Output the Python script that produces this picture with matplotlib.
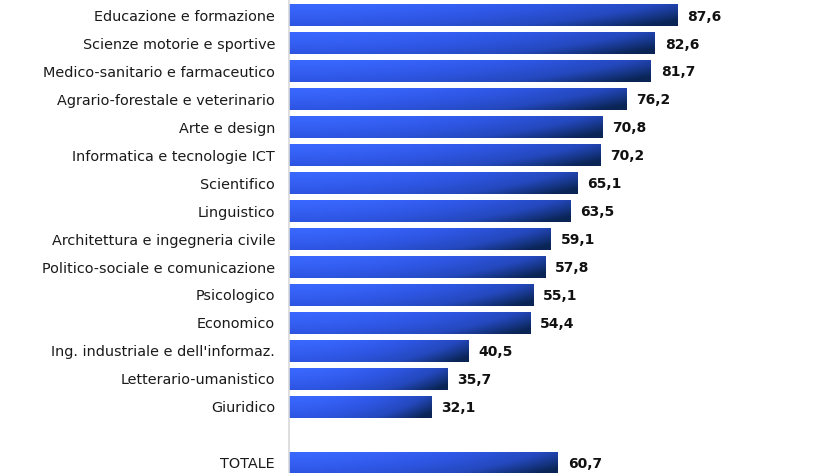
import numpy as np
import matplotlib
matplotlib.use("Agg")
import matplotlib.pyplot as plt
from matplotlib.colors import LinearSegmentedColormap

# Data
categories = [
    "Educazione e formazione",
    "Scienze motorie e sportive",
    "Medico-sanitario e farmaceutico",
    "Agrario-forestale e veterinario",
    "Arte e design",
    "Informatica e tecnologie ICT",
    "Scientifico",
    "Linguistico",
    "Architettura e ingegneria civile",
    "Politico-sociale e comunicazione",
    "Psicologico",
    "Economico",
    "Ing. industriale e dell'informaz.",
    "Letterario-umanistico",
    "Giuridico",
]
values = [87.6, 82.6, 81.7, 76.2, 70.8, 70.2, 65.1, 63.5, 59.1, 57.8, 55.1, 54.4, 40.5, 35.7, 32.1]
total_label = "TOTALE"
total_value = 60.7

labels = categories + [total_label]
vals = values + [total_value]
positions = list(range(len(categories))) + [len(categories) + 1]

cmap = LinearSegmentedColormap.from_list("bar", ["#3a68ff", "#2f57e6", "#2448bd", "#0a2555"])

fig = plt.figure(figsize=(8.18, 4.73), dpi=100)
ax = fig.add_axes([289 / 818, 0, 1 - 289 / 818, 1])

bar_h = 0.79
bars = ax.barh(positions, vals, height=bar_h, color="none", edgecolor="none")

# per-bar diagonal gradient, light top-left to dark bottom-right
gx, gy = np.meshgrid(np.linspace(0, 1, 256), np.linspace(0, 1, 32))
grad = np.clip(0.72 * gx ** 1.8 + 0.38 * gy ** 1.2, 0, 1)
for rect, v, p in zip(bars, vals, positions):
    im = ax.imshow(grad, cmap=cmap, aspect="auto", interpolation="bicubic",
                   extent=[0, v, p + bar_h / 2, p - bar_h / 2], vmin=0, vmax=1, zorder=2)
    im.set_clip_path(rect)
    ax.text(v + 2.2, p + 0.05, f"{v:.1f}".replace(".", ","), va="center", ha="left",
            fontsize=10, fontweight="bold", color="#111111")

ax.set_xlim(0, 119.4)
ax.set_ylim(16.36, -0.54)
ax.set_yticks(positions)
ax.set_yticklabels(labels, fontsize=10.4, color="#1a1a1a")
ax.tick_params(axis="y", length=0, pad=10)
ax.set_xticks([])
for s in ["top", "right", "bottom"]:
    ax.spines[s].set_visible(False)
ax.spines["left"].set_color("#d8d8d8")
ax.spines["left"].set_linewidth(1.2)

fig.savefig("out.png", dpi=100)
